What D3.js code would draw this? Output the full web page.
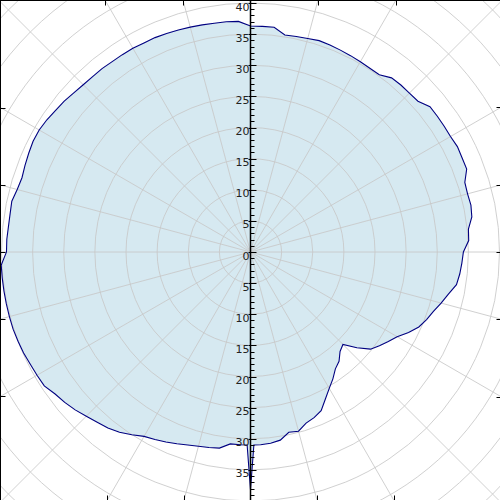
<!DOCTYPE html>
<html>
<head>
<meta charset="utf-8">
<script src="https://cdn.jsdelivr.net/npm/d3@7"></script>
<style>
  body { margin: 0; background: #fff; }
  text { font-family: "DejaVu Sans", sans-serif; }
</style>
</head>
<body>
<svg id="chart" width="500" height="500"></svg>
<script>
// compass angles in degrees (0 = up, clockwise) and radius
let angles = [0, 3, 6, 9, 12, 15, 18, 21, 24, 27, 30, 33, 36, 39, 42, 45, 48,
    51, 54, 57, 60, 63, 66, 69, 72, 75, 78, 81, 84, 87, 90, 93, 96, 99, 102,
    105, 108, 111, 114, 117, 120, 123, 126, 129, 132, 135, 138, 141, 144, 147,
    150, 153, 156, 159, 162, 165, 168, 171, 174, 177, 179, 180, 181, 183, 186,
    189, 192, 195, 198, 201, 204, 207, 210, 213, 216, 219, 222, 225, 228, 231,
    234, 237, 240, 243, 246, 249, 252, 255, 258, 261, 264, 267, 270, 273, 276,
    279, 282, 285, 288, 291, 294, 297, 300, 303, 306, 309, 312, 315, 318, 321,
    324, 327, 330, 333, 336, 339, 342, 345, 348, 351, 354, 357];
let values = [36.3, 36.3, 36.3, 35.3, 35.4, 35.5, 35.7, 35.6, 35.5, 35.4, 35.3, 35.2, 35.2, 36.0, 36.1, 36.1, 36.2,
    37.1, 37.1, 37.1, 37.1, 37.3, 37.2, 37.2, 36.2, 36.1, 36.2, 36.0, 35.2, 35.1, 34.2, 34.0, 33.8, 33.5, 32.5,
    31.7, 30.9, 30.3, 29.6, 28.5, 27.2, 26.4, 25.6, 24.8, 23.0, 21.0, 21.5, 22.6, 23.2, 24.3,
    25.3, 26.5, 27.9, 28.5, 28.9, 29.8, 29.6, 30.6, 30.9, 31.0, 31.0, 38.2, 31.0, 31.0, 31.0,
    31.9, 32.1, 32.3, 32.6, 33.0, 33.4, 33.8, 34.2, 35.0, 35.8, 36.4, 36.8, 37.3, 37.9, 38.4,
    38.8, 39.5, 39.6, 39.7, 39.9, 40.0, 40.1, 40.1, 40.1, 40.1, 40.1, 40.1, 39.2, 39.2, 39.1,
    39.1, 39.2, 38.8, 38.6, 38.8, 39.0, 39.2, 39.2, 39.0, 38.7, 38.5, 38.2, 38.0, 37.9, 37.9,
    37.8, 37.8, 37.8, 37.7, 37.7, 37.6, 37.5, 37.4, 37.3, 37.2, 37.2, 37.1];

let radialTicks = [0, 5, 10, 15, 20, 25, 30, 35, 40];
let gridRings = [5, 10, 15, 20, 25, 30, 35, 40, 45, 50, 55, 60];
let spokeAngles = d3.range(0, 360, 15);

let cx = 250.5,
    cy = 252,
    box = {x0: 0.5, y0: 0.5, x1: 501.5, y1: 500.5};

let r = d3.scaleLinear()
    .domain([0, 40])
    .range([0, 249]);

let svg = d3.select('#chart');

svg.append('defs').append('clipPath')
    .attr('id', 'plotclip')
    .append('rect')
    .attr('x', box.x0).attr('y', box.y0)
    .attr('width', box.x1 - box.x0).attr('height', box.y1 - box.y0);

let plot = svg.append('g').attr('clip-path', 'url(#plotclip)');
let g = plot.append('g').attr('transform', 'translate(' + cx + ',' + cy + ')');

let data = angles.map(function(a, i) {
    return {a: a, v: values[i]};
});

let radial = d3.lineRadial()
    .angle(function(d) { return d.a * Math.PI / 180; })
    .radius(function(d) { return r(d.v); })
    .curve(d3.curveLinearClosed);

// filled area
g.append('path')
    .attr('d', radial(data))
    .attr('fill', '#d6e9f1')
    .attr('stroke', 'none');

// rings
g.selectAll('.ring')
    .data(gridRings)
    .enter().append('circle')
    .attr('class', 'ring')
    .attr('r', function(d) { return r(d); })
    .attr('fill', 'none')
    .attr('stroke', '#c8c8c8')
    .attr('stroke-opacity', 0.85)
    .attr('stroke-width', 1);

// spokes
g.selectAll('.spoke')
    .data(spokeAngles)
    .enter().append('line')
    .attr('class', 'spoke')
    .attr('x1', 0).attr('y1', 0)
    .attr('x2', function(d) { return Math.sin(d * Math.PI / 180) * 500; })
    .attr('y2', function(d) { return -Math.cos(d * Math.PI / 180) * 500; })
    .attr('stroke', '#c8c8c8')
    .attr('stroke-opacity', 0.85)
    .attr('stroke-width', 1);

// outline
g.append('path')
    .attr('d', radial(data))
    .attr('fill', 'none')
    .attr('stroke', '#000080')
    .attr('stroke-width', 1.1)
    .attr('stroke-linejoin', 'miter');

// frame
svg.append('rect')
    .attr('x', box.x0).attr('y', box.y0)
    .attr('width', box.x1 - box.x0).attr('height', box.y1 - box.y0)
    .attr('fill', 'none')
    .attr('stroke', '#000')
    .attr('stroke-width', 1);

// ticks where the spokes meet the frame
let edgeTicks = [];
spokeAngles.forEach(function(d) {
    if (d % 90 === 0 && (d === 0 || d === 180)) return;
    if (d % 45 === 0 && d % 90 !== 0) return;
    let dx = Math.sin(d * Math.PI / 180),
        dy = -Math.cos(d * Math.PI / 180);
    let tx = dx > 0 ? (box.x1 - cx) / dx : dx < 0 ? (box.x0 - cx) / dx : Infinity;
    let ty = dy > 0 ? (box.y1 - cy) / dy : dy < 0 ? (box.y0 - cy) / dy : Infinity;
    if (tx < ty) {
        let y = Math.round(cy + dy * tx) + 0.5;
        edgeTicks.push({x1: box.x0 + (dx > 0 ? -5 : 0), x2: box.x0 + (dx > 0 ? 0 : 5), y1: y, y2: y, side: dx > 0 ? 'r' : 'l'});
        if (dx > 0) {
            edgeTicks[edgeTicks.length - 1].x1 = box.x1 - 5;
            edgeTicks[edgeTicks.length - 1].x2 = box.x1;
        }
    } else {
        let x = Math.round(cx + dx * ty) + 0.5;
        let y0 = dy > 0 ? box.y1 : box.y0;
        edgeTicks.push({x1: x, x2: x, y1: y0, y2: y0 + (dy > 0 ? -5 : 5)});
    }
});

svg.selectAll('.edge-tick')
    .data(edgeTicks)
    .enter().append('line')
    .attr('class', 'edge-tick')
    .attr('x1', function(d) { return d.x1; })
    .attr('x2', function(d) { return d.x2; })
    .attr('y1', function(d) { return d.y1; })
    .attr('y2', function(d) { return d.y2; })
    .attr('stroke', '#000')
    .attr('stroke-width', 1);

// radial axis, drawn up and down through the centre
let axis = svg.append('g').attr('transform', 'translate(' + cx + ',' + cy + ')');

axis.append('line')
    .attr('x1', 0).attr('x2', 0)
    .attr('y1', -cy).attr('y2', 500 - cy)
    .attr('stroke', '#000')
    .attr('stroke-width', 1.5);

let minor = d3.range(-40, 41).filter(function(v) { return v % 5 !== 0; });
axis.selectAll('.minor')
    .data(minor)
    .enter().append('line')
    .attr('class', 'minor')
    .attr('x1', 0).attr('x2', 4)
    .attr('y1', function(d) { return Math.round(-r(d)) + 0.5; })
    .attr('y2', function(d) { return Math.round(-r(d)) + 0.5; })
    .attr('stroke', '#000');

let major = d3.range(-40, 41, 5);
axis.selectAll('.major')
    .data(major)
    .enter().append('line')
    .attr('class', 'major')
    .attr('x1', -2).attr('x2', 6)
    .attr('y1', function(d) { return Math.round(-r(d)) + 0.5; })
    .attr('y2', function(d) { return Math.round(-r(d)) + 0.5; })
    .attr('stroke', '#000');

let labelTicks = radialTicks.concat(radialTicks.slice(1).map(function(v) { return -v; }));
axis.selectAll('.rlabel')
    .data(labelTicks)
    .enter().append('text')
    .attr('class', 'rlabel')
    .attr('x', -1)
    .attr('y', function(d) { return -r(d) + 7.5; })
    .attr('text-anchor', 'end')
    .attr('font-size', 11)
    .attr('fill', '#222')
    .text(function(d) { return Math.abs(d); });
</script>
</body>
</html>
